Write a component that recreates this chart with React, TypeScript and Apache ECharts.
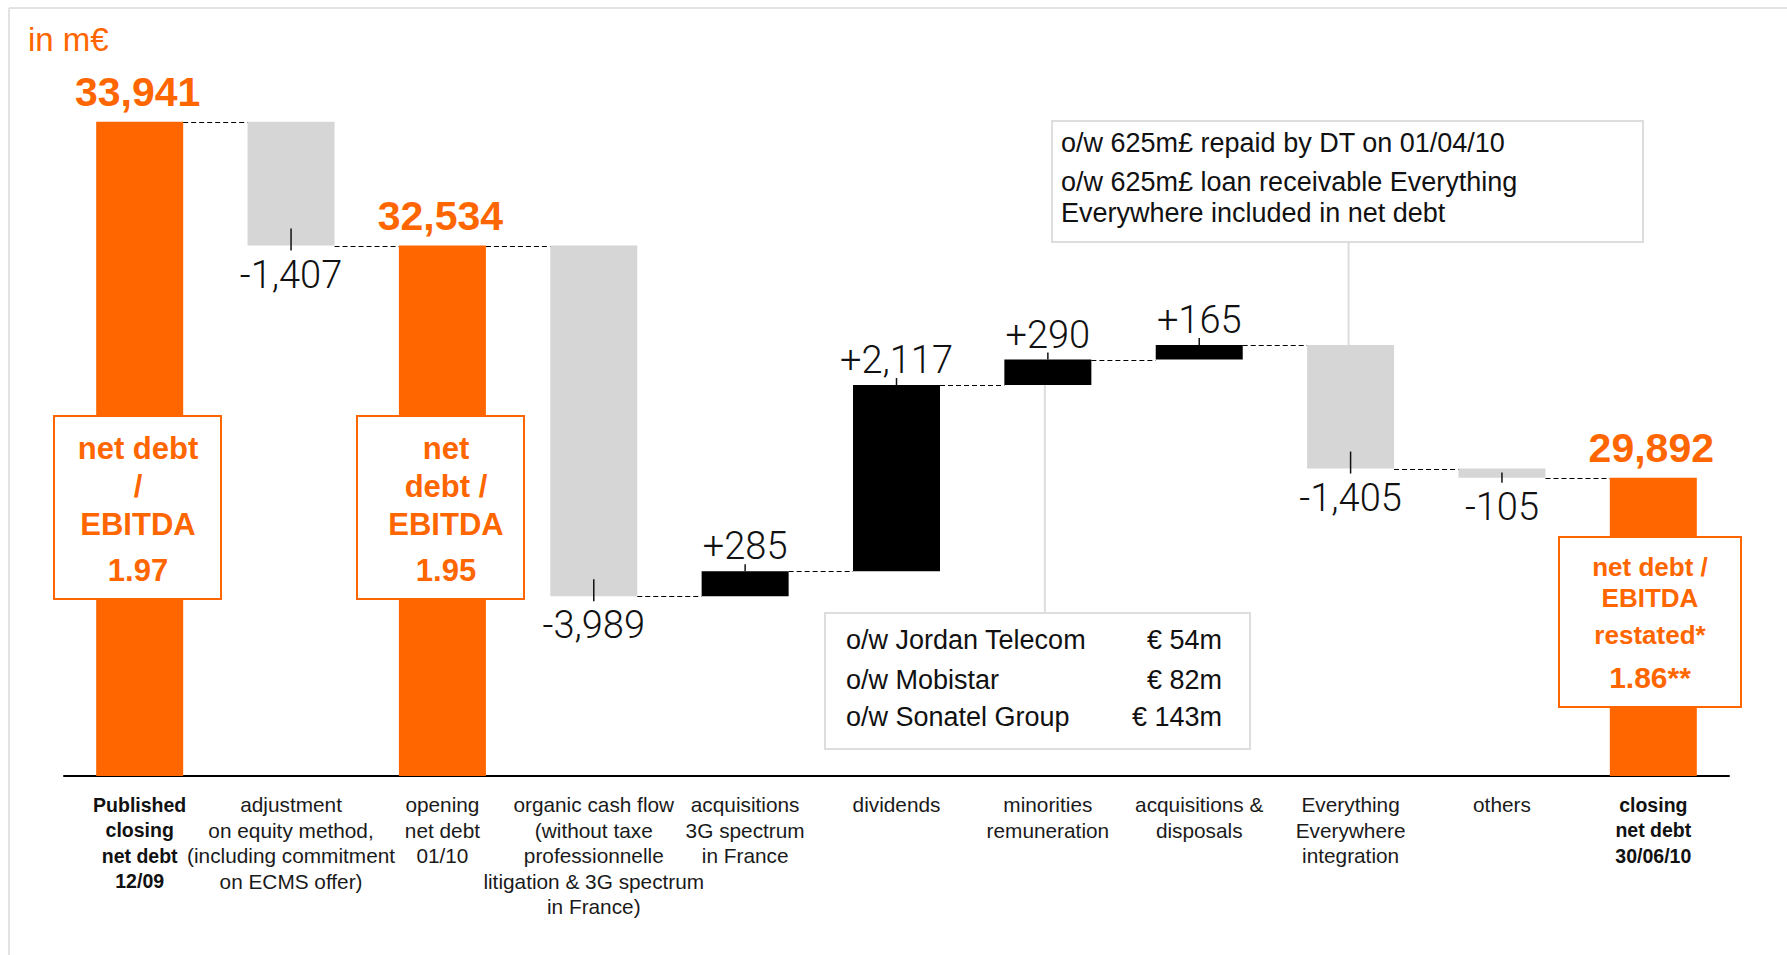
import React, { useEffect, useRef } from 'react';
import * as echarts from 'echarts';

// ---------- data ----------
const categories = [
  'Published\nclosing\nnet debt\n12/09',
  'adjustment\non equity method,\n(including commitment\non ECMS offer)',
  'opening\nnet debt\n01/10',
  'organic cash flow\n(without taxe\nprofessionnelle\nlitigation & 3G spectrum\nin France)',
  'acquisitions\n3G spectrum\nin France',
  'dividends',
  'minorities\nremuneration',
  'acquisitions &\ndisposals',
  'Everything\nEverywhere\nintegration',
  'others',
  'closing\nnet debt\n30/06/10',
];
const boldCategories = [0, 10];
const itemKinds = ['total', 'delta', 'total', 'delta', 'delta', 'delta', 'delta', 'delta', 'delta', 'delta', 'total'];
const itemValues = [33941, -1407, 32534, -3989, 285, 2117, 290, 165, -1405, -105, 29892];

const unitLabel = 'in m€';
const ratioTextA = ['net debt', '/', 'EBITDA', '1.97'];
const ratioTextB = ['net', 'debt /', 'EBITDA', '1.95'];
const ratioTextC = ['net debt /', 'EBITDA', 'restated*', '1.86**'];
const eeNotes = [
  'o/w 625m£ repaid by DT on 01/04/10',
  'o/w 625m£ loan receivable Everything',
  'Everywhere included in net debt',
];
const minorityNames = ['o/w Jordan Telecom', 'o/w Mobistar', 'o/w Sonatel Group'];
const minorityAmounts = ['€ 54m', '€ 82m', '€ 143m'];

const Y_MIN = 26500;
const Y_MAX = 35000;

// ---------- styles ----------
const ORANGE = '#ff6600';
const GREY = '#d6d6d6';
const BLACK = '#000000';
const FONT = "'Liberation Sans', Arial, Helvetica, sans-serif";
const LIGHT = "Roboto, 'Liberation Sans', Arial, sans-serif";
const BAR_W = 87;

type Step = { low: number; high: number; end: number; kind: string; v: number };

function buildSteps(): Step[] {
  let running = 0;
  return itemValues.map((v, i) => {
    if (itemKinds[i] === 'total') {
      running = v;
      return { low: 0, high: v, end: v, kind: 'total', v };
    }
    const start = running;
    const end = running + v;
    running = end;
    return { low: Math.min(start, end), high: Math.max(start, end), end, kind: v < 0 ? 'neg' : 'pos', v };
  });
}

const fmt = (n: number) => Math.abs(n).toLocaleString('en-US');

export default function App() {
  const ref = useRef<HTMLDivElement>(null);

  useEffect(() => {
    if (!ref.current) return;
    const chart = echarts.init(ref.current, undefined, { renderer: 'svg' });
    const steps = buildSteps();

    const baseData = steps.map((s) => (s.kind === 'total' ? 0 : s.low));
    const barData = steps.map((s) => ({
      value: s.kind === 'total' ? s.v : Math.abs(s.v),
      itemStyle: { color: s.kind === 'total' ? ORANGE : s.kind === 'neg' ? GREY : BLACK },
    }));

    const valueText = (text: string, x: number, y: number) => ({
      type: 'text',
      style: {
        text,
        x,
        y,
        align: 'center',
        verticalAlign: 'middle',
        fill: '#111',
        fontSize: 38,
        fontWeight: 300,
        fontFamily: LIGHT,
      },
    });

    const renderItem = (params: any, api: any) => {
      const i = api.value(0) as number;
      const s = steps[i];
      const band = (api.size([1, 0]) as number[])[0];
      const top = api.coord([i, s.high]);
      const cx = top[0];
      const yHigh = top[1];
      const yLow = api.coord([i, Math.max(s.low, Y_MIN)])[1];
      const children: any[] = [];
      if (i < steps.length - 1) {
        const yEnd = Math.round(api.coord([i, s.end])[1]) + 0.5;
        children.push({
          type: 'line',
          shape: { x1: cx + BAR_W / 2, y1: yEnd, x2: cx + band - BAR_W / 2, y2: yEnd },
          style: { stroke: '#000', lineWidth: 1, lineDash: [5, 3] },
        });
      }
      if (s.kind === 'total') {
        children.push({
          type: 'text',
          style: {
            text: s.v.toLocaleString('en-US'),
            x: cx - 2,
            y: yHigh - 30,
            align: 'center',
            verticalAlign: 'middle',
            fill: ORANGE,
            fontSize: 41,
            fontWeight: 'bold',
            fontFamily: FONT,
          },
        });
      } else if (s.kind === 'neg') {
        children.push({
          type: 'line',
          shape: { x1: cx, y1: Math.max(yLow - 17, yHigh + 4), x2: cx, y2: yLow + 5 },
          style: { stroke: '#111', lineWidth: 1.5 },
        });
        children.push(valueText('-' + fmt(s.v), cx, yLow + 29));
      } else {
        children.push({
          type: 'line',
          shape: { x1: cx, y1: yHigh - 7, x2: cx, y2: yHigh },
          style: { stroke: '#111', lineWidth: 1.5 },
        });
        children.push(valueText('+' + fmt(s.v), cx, yHigh - 25));
      }
      return { type: 'group', children };
    };

    const option: any = {
      animation: false,
      backgroundColor: '#ffffff',
      grid: { left: 64, right: 58, top: 28.7, bottom: 179, containLabel: false },
      xAxis: {
        type: 'category',
        data: categories,
        axisLine: { show: true, lineStyle: { color: '#000', width: 2 } },
        axisTick: { show: false },
        axisLabel: {
          interval: 0,
          hideOverlap: false,
          margin: 16,
          fontSize: 20.8,
          lineHeight: 25.5,
          color: '#1a1a1a',
          fontFamily: FONT,
          formatter: (value: string, idx: number) =>
            boldCategories.includes(idx)
              ? value
                  .split('\n')
                  .map((l) => `{b|${l}}`)
                  .join('\n')
              : value,
          rich: {
            b: { fontSize: 19.5, lineHeight: 25.5, fontWeight: 'bold', color: '#111', fontFamily: FONT },
          },
        },
      },
      yAxis: {
        type: 'value',
        min: Y_MIN,
        max: Y_MAX,
        show: false,
        splitLine: { show: false },
      },
      series: [
        {
          type: 'bar',
          stack: 'w',
          data: baseData,
          barWidth: BAR_W,
          itemStyle: { color: 'transparent' },
          silent: true,
        },
        {
          type: 'bar',
          stack: 'w',
          data: barData,
          barWidth: BAR_W,
        },
        {
          type: 'custom',
          data: steps.map((s, i) => [i, s.high]),
          renderItem,
          z: 10,
          silent: true,
        },
      ],
    };
    chart.setOption(option);

    const pTop = chart.convertToPixel({ gridIndex: 0 }, [8, steps[8].high]) as number[];
    const pMin = chart.convertToPixel({ gridIndex: 0 }, [6, steps[6].low]) as number[];

    const txt = (text: string, x: number, y: number, extra: any = {}) => ({
      type: 'text',
      z: 101,
      style: {
        text,
        x,
        y,
        align: 'left',
        verticalAlign: 'middle',
        fill: '#111',
        fontSize: 27,
        fontFamily: FONT,
        ...extra,
      },
    });

    const ratioBox = (x: number, y: number, w: number, h: number, cx: number, lines: string[], ys: number[], sizes: number[]) => [
      {
        type: 'rect',
        z: 100,
        shape: { x, y, width: w, height: h },
        style: { fill: '#ffffff', stroke: ORANGE, lineWidth: 2 },
      },
      ...lines.map((l, k) =>
        txt(l, cx, ys[k], { align: 'center', fill: ORANGE, fontWeight: 'bold', fontSize: sizes[k] })
      ),
    ];

    const rowsY = [640, 680, 717];

    const graphic: any[] = [
      // frame
      { type: 'line', z: 100, shape: { x1: 9, y1: 8, x2: 1787, y2: 8 }, style: { stroke: '#e3e3e3', lineWidth: 2 } },
      { type: 'line', z: 100, shape: { x1: 9, y1: 8, x2: 9, y2: 955 }, style: { stroke: '#e3e3e3', lineWidth: 2 } },
      txt(unitLabel, 28, 39, { fill: ORANGE, fontSize: 33 }),
      // ratio boxes
      ...ratioBox(54, 416, 167, 183, 138, ratioTextA, [448, 486, 524, 570], [31, 31, 31, 31]),
      ...ratioBox(357, 416, 167, 183, 446, ratioTextB, [448, 486, 524, 570], [31, 31, 31, 31]),
      ...ratioBox(1559, 537, 182, 170, 1650, ratioTextC, [567, 598, 635, 677], [26, 26, 26, 30]),
      // EE note box
      {
        type: 'line',
        z: 99,
        shape: { x1: pTop[0] - 2, y1: 242, x2: pTop[0] - 2, y2: pTop[1] },
        style: { stroke: '#dddddd', lineWidth: 2 },
      },
      {
        type: 'rect',
        z: 100,
        shape: { x: 1052, y: 121, width: 591, height: 121 },
        style: { fill: '#ffffff', stroke: '#dddddd', lineWidth: 2 },
      },
      txt(eeNotes[0], 1061, 143),
      txt(eeNotes[1], 1061, 182),
      txt(eeNotes[2], 1061, 213),
      // minorities box
      {
        type: 'line',
        z: 99,
        shape: { x1: pMin[0] - 3, y1: pMin[1], x2: pMin[0] - 3, y2: 613 },
        style: { stroke: '#dddddd', lineWidth: 2 },
      },
      {
        type: 'rect',
        z: 100,
        shape: { x: 825, y: 613, width: 425, height: 136 },
        style: { fill: '#ffffff', stroke: '#dddddd', lineWidth: 2 },
      },
      ...minorityNames.map((n, k) => txt(n, 846, rowsY[k])),
      ...minorityAmounts.map((a, k) => txt(a, 1222, rowsY[k], { align: 'right' })),
    ];
    chart.setOption({ graphic });

    return () => chart.dispose();
  }, []);

  return (
    <div
      ref={ref}
      style={{ position: 'fixed', left: 0, top: 0, width: 1787, height: 955, background: '#fff' }}
    />
  );
}
